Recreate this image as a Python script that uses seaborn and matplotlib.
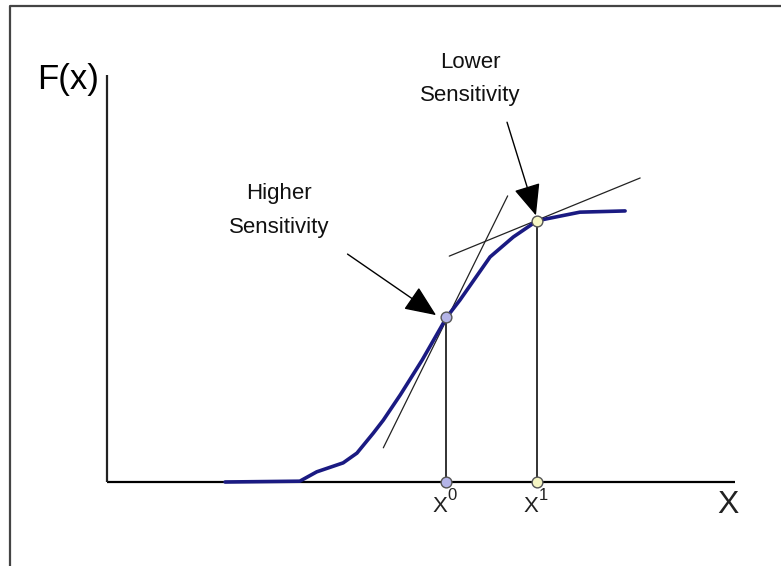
import matplotlib
matplotlib.use("Agg")
import matplotlib.pyplot as plt
import seaborn as sns
import pandas as pd
from matplotlib.lines import Line2D

# sigmoid-like response curve F(x)
curve_x = [1.88, 3.07, 3.34, 3.76, 3.98, 4.24, 4.40, 4.67, 5.02, 5.41, 5.62, 6.10, 6.47, 6.85, 7.53, 8.25]
curve_y = [0.0, 0.002, 0.025, 0.047, 0.071, 0.12, 0.152, 0.214, 0.30, 0.405, 0.447, 0.553, 0.602, 0.642, 0.663, 0.666]

# the two evaluation points x0 and x1
point_x = [5.40, 6.85]
point_y = [0.405, 0.642]
point_names = ["0", "1"]
point_colors = ["#b4b4e8", "#f6f6c4"]

# tangent lines at x0 and x1
tan0_x = [4.40, 6.38]
tan0_y = [0.084, 0.703]
tan1_x = [5.45, 8.49]
tan1_y = [0.555, 0.747]

# annotations: text, text position, arrow tail, arrow tip
notes = ["Higher\nSensitivity", "Lower\nSensitivity"]
note_pos = [(2.74, 0.668), (5.78, 0.990)]
arrow_tail = [(3.83, 0.560), (6.37, 0.884)]
arrow_tip = [(5.24, 0.410), (6.83, 0.655)]

x_axis_end = 10.0
y_axis_end = 1.0

sns.set_style("white")
plt.rcParams["font.family"] = ["Liberation Sans", "DejaVu Sans"]

fig = plt.figure(figsize=(7.81, 5.66), dpi=100)
ax = fig.add_axes([0, 0, 1, 1])
ax.set_xlim(-107 / 62.8, (781 - 107) / 62.8)
ax.set_ylim(-84 / 407, (566 - 84) / 407)
ax.axis("off")

# axes lines
ax.plot([0, x_axis_end], [0, 0], color="black", lw=1.6, solid_capstyle="butt")
ax.plot([0, 0], [0, y_axis_end], color="#222222", lw=1.6, solid_capstyle="butt")

# vertical drop lines from points
for px, py in zip(point_x, point_y):
    ax.plot([px, px], [0, py], color="#222222", lw=1.3)

# tangents
ax.plot(tan0_x, tan0_y, color="#222222", lw=0.9)
ax.plot(tan1_x, tan1_y, color="#222222", lw=0.9)

curve = pd.DataFrame({"x": curve_x, "F": curve_y})
sns.lineplot(data=curve, x="x", y="F", ax=ax, color="#1a1a82", lw=2.6, sort=False)

# points on the curve and on the axis
for px, py, c in zip(point_x, point_y, point_colors):
    pts = pd.DataFrame({"x": [px, px], "F": [py, 0]})
    sns.scatterplot(data=pts, x="x", y="F", ax=ax, color=c, s=60,
                    edgecolor="#555555", linewidth=1.0, zorder=5)

# arrows and their labels
for text, pos, tail, tip in zip(notes, note_pos, arrow_tail, arrow_tip):
    ax.text(pos[0], pos[1], text, ha="center", va="center", fontsize=16,
            linespacing=1.8, color="#111111")
    ax.annotate("", xy=tip, xytext=tail,
                arrowprops=dict(arrowstyle="-|>,head_length=1.4,head_width=0.6",
                                mutation_scale=14, color="black", lw=1.0,
                                shrinkA=0, shrinkB=0))

# point labels x0, x1
for px, name in zip(point_x, point_names):
    ax.text(px - 0.10, -0.061, "X", ha="center", va="center", fontsize=16, color="#222222")
    ax.text(px + 0.10, -0.034, name, ha="center", va="center", fontsize=12, color="#222222")

ax.text(9.89, -0.057, "X", ha="center", va="center", fontsize=23, color="#222222")
ax.text(-0.62, 0.988, "F(x)", ha="center", va="center", fontsize=25, color="black")

# frame on the left and top edges
fx = 9.5 / 781
fy = 1 - 6 / 566
fig.add_artist(Line2D([fx, fx, 1], [0, fy, fy], color="#444444", lw=1.6,
                      transform=fig.transFigure))

ax.set_xlabel("")
ax.set_ylabel("")
fig.savefig("out.png", dpi=100)
